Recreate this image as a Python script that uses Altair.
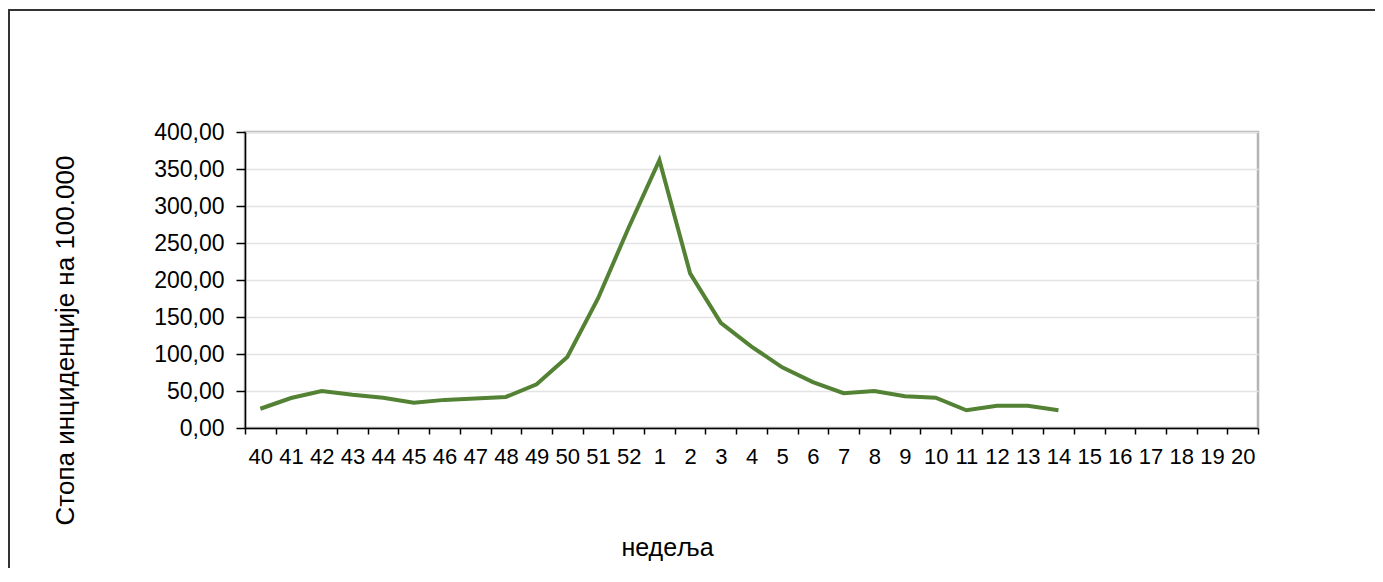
import altair as alt
import pandas as pd

weeks = ["40", "41", "42", "43", "44", "45", "46", "47", "48", "49", "50", "51", "52",
         "1", "2", "3", "4", "5", "6", "7", "8", "9", "10", "11", "12", "13", "14",
         "15", "16", "17", "18", "19", "20"]
rates = [26, 40.5, 50, 45, 41, 34, 38, 40, 42, 59, 96, 175, 271,
         362, 209, 142, 110, 82, 62, 47, 50, 43, 41, 24, 30, 30, 24,
         None, None, None, None, None, None]

df = pd.DataFrame({"week": weeks, "rate": rates})

FONT = "Liberation Sans"

line = alt.Chart(df).mark_line(color="#548235", strokeWidth=4).encode(
    x=alt.X(
        "week:N",
        sort=weeks,
        scale=alt.Scale(type="band", domain=weeks, paddingInner=0, paddingOuter=0),
        axis=alt.Axis(
            title="недеља",
            labelAngle=0,
            labelFont=FONT,
            labelFontSize=22,
            labelColor="#000000",
            labelPadding=12,
            tickBand="extent",
            tickColor="#000000",
            tickSize=6,
            tickWidth=1.5,
            domainColor="#000000",
            domainWidth=1.5,
            grid=False,
            titleFont=FONT,
            titleFontSize=25,
            titleFontWeight="normal",
            titleColor="#000000",
            titleX=422,
            titleY=119,
            titleBaseline="middle",
        ),
    ),
    y=alt.Y(
        "rate:Q",
        scale=alt.Scale(domain=[0, 400], nice=False, zero=True),
        axis=alt.Axis(
            title="Стопа инциденције на 100.000",
            values=[0, 50, 100, 150, 200, 250, 300, 350, 400],
            labelExpr="replace(format(datum.value, '.2f'), '.', ',')",
            labelFont=FONT,
            labelFontSize=23,
            labelColor="#000000",
            labelPadding=12,
            tickColor="#000000",
            tickSize=9,
            tickWidth=1.5,
            domainColor="#000000",
            domainWidth=1.5,
            grid=True,
            gridColor="#e3e3e3",
            gridWidth=1.5,
            titleFont=FONT,
            titleFontSize=26,
            titleFontWeight="normal",
            titleColor="#000000",
            titleAngle=270,
            titleX=-180,
            titleY=208,
            titleBaseline="middle",
        ),
    ),
)

frame_left = alt.Chart(df).mark_rule(color="#333333", strokeWidth=2).encode(
    x=alt.value(-236), y=alt.value(-122), y2=alt.value(700)
)
frame_top = alt.Chart(df).mark_rule(color="#333333", strokeWidth=2).encode(
    x=alt.value(-237), x2=alt.value(1400), y=alt.value(-122)
)

chart = alt.layer(line, frame_left, frame_top).properties(
    width=1013,
    height=296,
    padding={"left": 237, "top": 124, "right": 117, "bottom": 140},
    autosize=alt.AutoSizeParams(type="none"),
    background="#ffffff",
).configure_view(stroke="#b4b4b4", strokeWidth=2.5)

chart.save("out.html", embed_options={"renderer": "svg", "actions": False})
